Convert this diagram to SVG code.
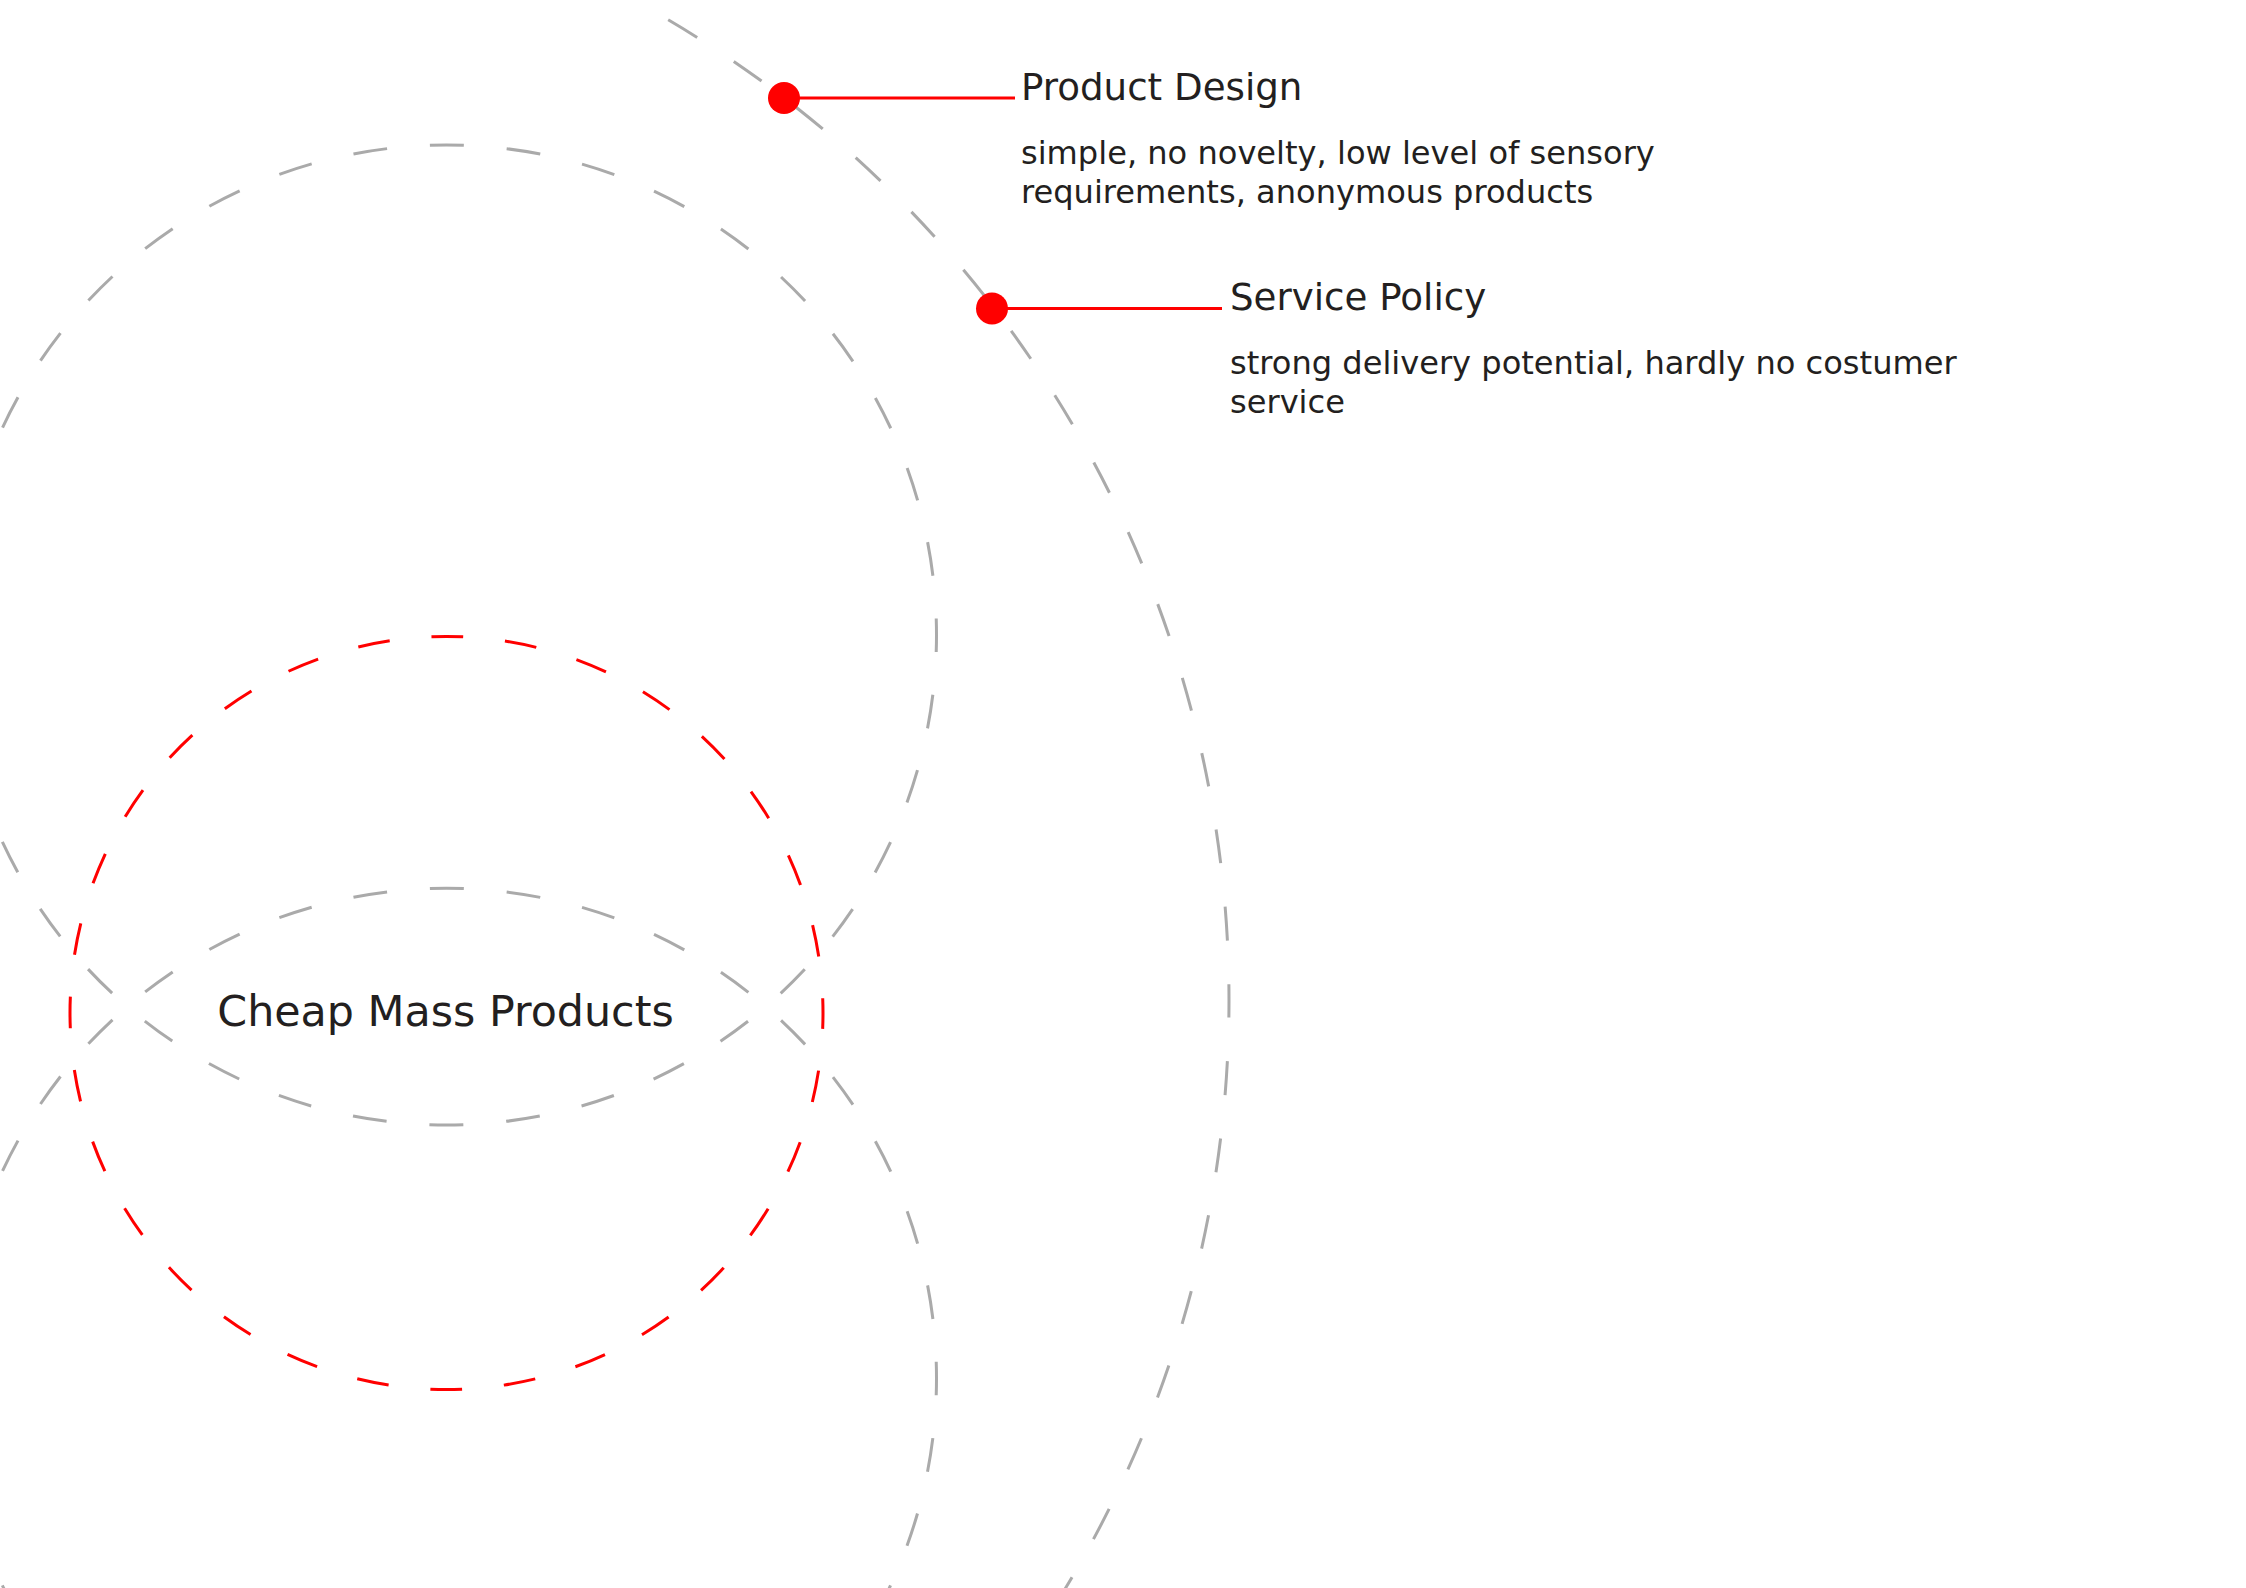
<svg xmlns="http://www.w3.org/2000/svg" width="2246" height="1588" viewBox="0 0 2246 1588">
  <style>
    .bg { fill: #ffffff; }
    .ring { fill: none; stroke: #AAAAAA; stroke-width: 3; }
    .ringAB { stroke-dasharray: 34 42.97; stroke-dashoffset: 17; }
    .ringC { stroke-dasharray: 34 43.72; stroke-dashoffset: 17; }
    .focus { fill: none; stroke: #FF0000; stroke-width: 3; stroke-dasharray: 32 41.93; stroke-dashoffset: 16; }
    .dot { fill: #FF0000; }
    .leader { stroke: #FF0000; stroke-width: 3; fill: none; }
    .t { font-family: "DejaVu Sans", Verdana, sans-serif; fill: #231F20; }
    .main { font-size: 42.8px; }
    .title { font-size: 37.2px; }
    .desc { font-size: 32.1px; }
  </style>
  <rect class="bg" x="0" y="0" width="2246" height="1588"/>
  <g id="rings">
    <circle class="ring ringAB" cx="446.5" cy="635" r="490"/>
    <circle class="ring ringAB" cx="446.5" cy="1378.3" r="490"/>
    <circle class="ring ringC" cx="91" cy="1000.5" r="1138"/>
  </g>
  <g id="connectors">
    <line class="leader" x1="784" y1="98" x2="1015" y2="98"/>
    <line class="leader" x1="992" y1="308.5" x2="1222" y2="308.5"/>
  </g>
  <g id="cheap-mass-products">
    <circle class="focus" cx="446.5" cy="1013" r="376.5"/>
    <text class="t main" x="445.5" y="1026" text-anchor="middle">Cheap Mass Products</text>
  </g>
  <g id="product-design">
    <circle class="dot" cx="784" cy="98" r="16"/>
    <text class="t title" x="1021" y="100">Product Design</text>
    <text class="t desc" x="1021" y="164">simple, no novelty, low level of sensory</text>
    <text class="t desc" x="1021" y="203">requirements, anonymous products</text>
  </g>
  <g id="service-policy">
    <circle class="dot" cx="992" cy="308.5" r="16"/>
    <text class="t title" x="1230" y="310">Service Policy</text>
    <text class="t desc" x="1230" y="374">strong delivery potential, hardly no costumer</text>
    <text class="t desc" x="1230" y="413">service</text>
  </g>
</svg>
